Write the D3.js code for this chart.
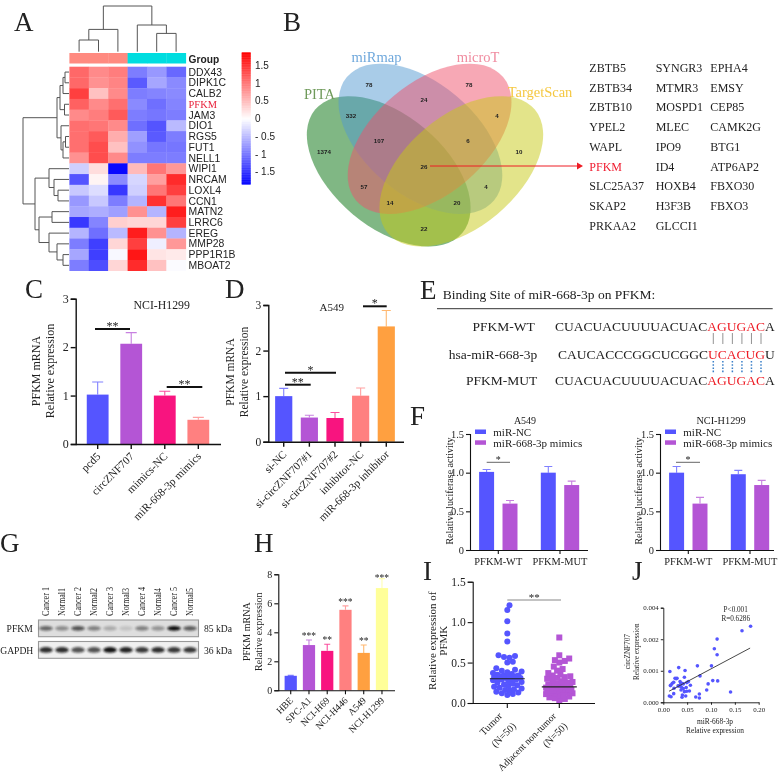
<!DOCTYPE html>
<html>
<head>
<meta charset="utf-8">
<title>PFKM figure</title>
<style>
  body { margin: 0; background: #fff; overflow: hidden; }
  svg { position: absolute; left: 0; top: 0; filter: blur(.35px); }
  text { font-family: "Liberation Serif", serif; fill: #222; }
</style>
<script src="https://d3js.org/d3.v7.min.js"></script>
</head>
<body>
<script>
// ---- data ----
var BLUE = "#5555ff", PURPLE = "#b455d5", PINK = "#f8147f", SALMON = "#ff8080", ORANGE = "#ffa040", YELLOW = "#ffff99";

// A heatmap
var heatGenes = ["DDX43","DIPK1C","CALB2","PFKM","JAM3","DIO1","RGS5","FUT1","NELL1","WIPI1","NRCAM","LOXL4","CCN1","MATN2","LRRC6","EREG","MMP28","PPP1R1B","MBOAT2"];
var heatValues = [
  [1.1,.85,.95,-.95,-.75,-1.1],
  [1.1,.8,.9,-1.2,-.65,-.85],
  [1.4,.45,.85,-.95,-.9,-.85],
  [1.15,.85,1.05,-.85,-1.05,-.9],
  [.85,.95,1.2,-.95,-1.0,-.95],
  [1.05,1.0,.85,-1.05,-1.25,-.5],
  [1.05,1.2,.6,-.7,-1.2,-.95],
  [1.05,1.3,.45,-.8,-1.0,-1.0],
  [.8,1.3,.85,-.95,-.95,-.95],
  [-.35,.25,-1.8,.5,1.0,.75],
  [-1.25,.08,-.85,-.3,.7,1.55],
  [-.4,-.25,-1.45,-.35,1.0,1.4],
  [-.75,-.4,-.95,-.55,1.5,1.0],
  [-.65,-.6,-.7,.8,-.55,1.65],
  [-1.45,-.9,.35,.3,.3,1.4],
  [-.55,-1.05,-.5,1.65,.8,-.55],
  [-.95,-1.4,.3,1.4,-.12,.75],
  [-.65,-1.4,-.05,1.7,.2,.15],
  [-.95,-1.3,.3,1.55,.45,-.03]
];
var heatGroups = ["#ff8a80","#ff8a80","#ff8a80","#00dde0","#00dde0","#00dde0"];
var legendTicks = [1.5,1,.5,0,-.5,-1,-1.5];
var legendLabels = ["1.5","1","0.5","0","- 0.5","- 1","- 1.5"];
// dendrograms: [merge height, left, right], numbers are leaves
var colTree = [45.7,[22.3,[11.7,0,1],2],[26.7,3,[18.3,4,5]]];
var rowTree = [46,
  [12,[9,[6,[4,0,1],2],[4.5,3,4]],[8,5,[6,[3.5,6,7],8]]],
  [34,[20,9,[15,10,[11,11,12]]],[30,[17,13,14],[20,15,[12,16,[6,17,18]]]]]
];

// B venn
var vennNames = ["PITA","miRmap","microT","TargetScan"];
var vennFills = ["#02700a","#5399d1","#ef516b","#c7c915"];
var vennTitleColors = ["#6f9a5a","#6fa8dc","#f08ca0","#f5c842"];
var vennCounts = ["78","78","332","24","4","107","6","1374","10","26","57","4","14","20","22"];
var geneColumns = [
  ["ZBTB5","ZBTB34","ZBTB10","YPEL2","WAPL","PFKM","SLC25A37","SKAP2","PRKAA2"],
  ["SYNGR3","MTMR3","MOSPD1","MLEC","IPO9","ID4","HOXB4","H3F3B","GLCCI1"],
  ["EPHA4","EMSY","CEP85","CAMK2G","BTG1","ATP6AP2","FBXO30","FBXO3"]
];

// C
var cCats = ["pcd5","circZNF707","mimics-NC","miR-668-3p mimics"];
var cVals = [1.02,2.07,1.0,.5];
var cErrs = [1.28,2.30,1.09,.55];
// D
var dCats = ["si-NC","si-circZNF707#1","si-circZNF707#2","inhibitor-NC","miR-668-3p inhibitor"];
var dVals = [1.0,.53,.52,1.01,2.53];
var dErrs = [1.17,.58,.64,1.18,2.88];

// E
var seqNames = ["PFKM-WT","hsa-miR-668-3p","PFKM-MUT"];
var seqParts = [
  ["CUACUACUUUUACUAC","AGUGAC","A"],
  ["CAUCACCCGGCUCGGC","UCACUG","U"],
  ["CUACUACUUUUACUAC","AGUGAC","A"]
];

// F
var fGroups = ["PFKM-WT","PFKM-MUT"];
var fSeries = ["miR-NC","miR-668-3p mimics"];
var fA549Vals = [[1.01,.6],[1.0,.84]];
var fA549Errs = [[1.04,.64],[1.08,.89]];
var fH1299Vals = [[1.0,.6],[.98,.84]];
var fH1299Errs = [[1.08,.68],[1.03,.9]];
var fTicks = [0,.5,1,1.5];
var fTickLabels = ["0","0.5","1.0","1.5"];

// G blot
var blotLanes = ["Cancer 1","Normal1","Cancer 2","Normal2","Cancer 3","Normal3","Cancer 4","Normal4","Cancer 5","Normal5"];
var pfkmBands = [.55,.36,.65,.42,.2,.08,.42,.32,1,.6];
var gapdhBands = [.85,.85,.68,.68,.97,.9,.8,.85,.8,.8];

// H
var hCats = ["HBE","SPC-A1","NCI-H69","NCI-H446","A549","NCI-H1299"];
var hVals = [1.0,3.12,2.72,5.55,2.58,7.05];
var hErrs = [1.03,3.47,3.18,5.82,3.12,7.7];
var hStars = ["","***","**","***","**","***"];

// I
var tumorVals = [1.21,1.15,1.01,.86,.76,.59,.58,.57,.56,.51,.50,.43,.41,.40,.39,.38,.37,.36,.35,.34,.34,.33,.33,.32,.32,.31,.31,.30,.30,.29,.29,.28,.27,.26,.25,.24,.23,.22,.21,.20,.19,.18,.17,.16,.15,.14,.13,.12,.11,.10];
var adjacentVals = [.81,.59,.55,.53,.52,.50,.45,.42,.40,.37,.35,.34,.33,.32,.31,.30,.28,.27,.26,.25,.24,.23,.22,.21,.20,.20,.19,.19,.18,.18,.17,.17,.16,.16,.15,.15,.14,.14,.13,.13,.12,.12,.11,.10,.09,.08,.07,.06,.05,.03];
var iMedians = [.30,.20];

// J (y values in thousandths of the evenly spaced axis)
var jX = [.0138,.0323,.0456,.0715,.101,.107,.1128,.1128,.165,.183,.077,.0442,.1037,.114,.094,.091,.141,.0756,.068,.0756,.0127,.0162,.0218,.0225,.0148,.019,.0218,.0246,.0288,.0351,.0386,.033,.0379,.042,.0491,.0526,.0568,.0372,.0442,.0491,.0547,.04,.047,.0393,.0309,.0162,.027,.042,.036,.048];
var jY = [.975,1.10,1.007,1.156,1.156,1.70,1.51,2.005,2.27,2.41,.837,.796,.688,.678,.583,.392,.328,.264,.169,.137,.2,.178,.275,.446,.53,.605,.637,.764,.764,.657,.605,.52,.477,.583,.625,.657,.54,.392,.338,.35,.36,.232,.2,.159,.52,.55,.75,.44,.56,.47];
var jFitX = [.012,.182];
var jFitY = [.35,1.72];
var jYTicks = [0,1,2,3];
var jYLabels = ["0.000","0.001","0.002","0.004"];
var jXTicks = [0,.05,.1,.15,.2];

// ---- drawing ----
var svg = d3.select("body").append("svg").attr("width", 778).attr("height", 773);

function txt(x, y, s, size, opts) {
  opts = opts || {};
  var t = svg.append("text").attr("x", x).attr("y", y).attr("font-size", size).text(s);
  if (opts.anchor) t.attr("text-anchor", opts.anchor);
  if (opts.fill) t.style("fill", opts.fill);
  if (opts.family) t.style("font-family", opts.family);
  if (opts.weight) t.attr("font-weight", opts.weight);
  if (opts.rotate !== undefined) t.attr("transform", "rotate(" + opts.rotate + " " + x + " " + y + ")");
  return t;
}

var panelLetters = [["A",14,31],["B",283,31],["C",25,298],["D",225,298],["E",420,299],["F",410,425],["G",0,552],["H",254,552],["I",423,580],["J",632,580]];
panelLetters.forEach(function(p) { txt(p[1], p[2], p[0], 27); });

// A
var heatX = d3.scaleBand().domain(d3.range(6)).range([69.4, 185.8]);
var heatY = d3.scaleBand().domain(heatGenes).range([66.7, 270.7]);
var heatColor = d3.scaleLinear().domain([-1.86, 0, 1.86]).range(["#0000ff", "#ffffff", "#ff0000"]);

heatValues.forEach(function(row, r) {
  svg.selectAll(null).data(row).enter().append("rect")
    .attr("x", function(d, i) { return heatX(i); })
    .attr("y", heatY(heatGenes[r]))
    .attr("width", heatX.bandwidth() + .3)
    .attr("height", heatY.bandwidth() + .3)
    .attr("fill", function(d) { return heatColor(d); });
});
svg.selectAll(null).data(heatGroups).enter().append("rect")
  .attr("x", function(d, i) { return heatX(i); })
  .attr("y", 53).attr("width", heatX.bandwidth() + .3).attr("height", 10.5)
  .attr("fill", function(d) { return d; });
txt(188.6, 63, "Group", 10.2, {family: "Liberation Sans", weight: "bold"});
heatGenes.forEach(function(g) {
  var y = heatY(g) + heatY.bandwidth() / 2 + 3.6;
  if (g == "PFKM") txt(188.6, y + .3, g, 10.4, {fill: "#e8203a"});
  else txt(188.6, y, g, 10.4, {family: "Liberation Sans"});
});

// dendrograms
function drawTree(node, pos, height, flip) {
  if (typeof node == "number") return {p: pos(node), h: height(0)};
  var a = drawTree(node[1], pos, height, flip), b = drawTree(node[2], pos, height, flip);
  var h = height(node[0]);
  var d = flip ? "M" + a.h + "," + a.p + "H" + h + "V" + b.p + "H" + b.h
               : "M" + a.p + "," + a.h + "V" + h + "H" + b.p + "V" + b.h;
  svg.append("path").attr("d", d).attr("fill", "none").attr("stroke", "#555").attr("stroke-width", 1);
  return {p: (a.p + b.p) / 2, h: h};
}
drawTree(colTree, function(i) { return heatX(i) + heatX.bandwidth() / 2; },
  d3.scaleLinear().domain([0, 45.7]).range([51.7, 6]), false);
drawTree(rowTree, function(i) { return heatY(heatGenes[i]) + heatY.bandwidth() / 2; },
  d3.scaleLinear().domain([0, 46]).range([69, 23]), true);

// colour legend
var legendY = d3.scaleLinear().domain([1.5, -1.5]).range([65.3, 171.7]);
var legendSteps = d3.range(legendY.invert(52.3), legendY.invert(184), -.02);
svg.selectAll(null).data(legendSteps).enter().append("rect")
  .attr("x", 241.7).attr("width", 9)
  .attr("y", function(d) { return legendY(d); })
  .attr("height", legendY(0) - legendY(.02) + .4)
  .attr("fill", function(d) { return heatColor(d); });
legendTicks.forEach(function(t, i) {
  txt(255, legendY(t) + 3.6, legendLabels[i], 10, {family: "Liberation Sans"});
});

// B
var vennShapes = [[388.7,171.3,40],[420.4,138.8,40],[429.6,138.8,-40],[461.3,171.3,-40]];
vennShapes.forEach(function(s, i) {
  svg.append("ellipse")
    .attr("rx", 96).attr("ry", 56)
    .attr("transform", "translate(" + s[0] + "," + s[1] + ") rotate(" + s[2] + ")")
    .attr("fill", vennFills[i]).attr("fill-opacity", .5);
});
var vennTitleSpots = [[319.5,99],[376.5,62],[478,62],[540,97]];
vennNames.forEach(function(n, i) {
  txt(vennTitleSpots[i][0], vennTitleSpots[i][1], n, 14.5, {anchor: "middle", fill: vennTitleColors[i]});
});
var vennSpots = [[369,85],[469,85],[351,116],[424,100],[497,116],[379,141],[468,141],[324,152],[519,152],[424,167],[364,187],[486,187],[390,203],[457,203],[424,229]];
vennCounts.forEach(function(c, i) {
  txt(vennSpots[i][0], vennSpots[i][1] + 2, c, 6.2, {anchor: "middle", family: "Liberation Sans", weight: "bold"});
});
svg.append("path").attr("d", "M430,166H578").attr("stroke", "#ee1c25").attr("stroke-width", 1);
svg.append("path").attr("d", "M577,162.5L583,166L577,169.5Z").attr("fill", "#ee1c25");

var geneColSpots = [589.3, 655.7, 710.3];
var geneRowY = d3.scaleLinear().domain([0, 8]).range([67.7, 225.7]);
geneColumns.forEach(function(col, c) {
  col.forEach(function(g, r) {
    txt(geneColSpots[c], geneRowY(r) + 4.2, g, 12, g == "PFKM" ? {fill: "#f01c30"} : {});
  });
});

// axes helper
function styleAxis(g, size, width) {
  g.selectAll("path,line").attr("stroke", "#111").attr("stroke-width", width);
  g.selectAll("text").attr("font-size", size).attr("font-family", "Liberation Serif").style("fill", "#222");
}

function yAxis(x, scale, ticks, labels, size, width, tick) {
  var g = svg.append("g").attr("transform", "translate(" + x + ",0)")
    .call(d3.axisLeft(scale).tickValues(ticks).tickSizeOuter(0).tickSize(tick).tickPadding(2)
      .tickFormat(function(d, i) { return labels[i]; }));
  styleAxis(g, size, width);
}

function xAxisLine(y, scale, x0, x1, width, tick) {
  var g = svg.append("g").attr("transform", "translate(0," + y + ")")
    .call(d3.axisBottom(scale).tickSizeOuter(0).tickSize(tick).tickFormat(""));
  styleAxis(g, 10, width);
  g.select("path").attr("d", "M" + x0 + ",.5H" + x1);
}

function rotatedLabels(scale, cats, y, dx, size) {
  cats.forEach(function(c) {
    var x = scale(c) + scale.bandwidth() / 2 + dx;
    txt(x, y, c, size, {anchor: "end", rotate: -45});
  });
}

function bars(scale, yScale, cats, vals, errs, colors, capw) {
  var bw = scale.bandwidth();
  cats.forEach(function(c, i) {
    var col = colors[i];
    var cx = scale(c) + bw / 2;
    svg.append("path")
      .attr("d", "M" + cx + "," + yScale(vals[i]) + "V" + yScale(errs[i]) + "M" + (cx - capw) + "," + yScale(errs[i]) + "H" + (cx + capw))
      .attr("stroke", col).attr("stroke-opacity", .75).attr("fill", "none").attr("stroke-width", 1.1);
    svg.append("rect").attr("x", scale(c)).attr("width", bw)
      .attr("y", yScale(vals[i])).attr("height", yScale(0) - yScale(vals[i]))
      .attr("fill", col);
  });
}

function sigLine(x0, x1, y, width, color, stars, size) {
  svg.append("path").attr("d", "M" + x0 + "," + y + "H" + x1).attr("stroke", color).attr("stroke-width", width);
  txt((x0 + x1) / 2, y + 1, stars, size, {anchor: "middle"});
}

function twoLineLabel(x1, x2, cy, a, b, size) {
  txt(x1, cy, a, size, {anchor: "middle", rotate: -90});
  txt(x2, cy, b, size, {anchor: "middle", rotate: -90});
}

// C
var cX = d3.scaleBand().domain(cCats).range([80.9, 215.1]).paddingInner(.35).paddingOuter(.175);
var cY = d3.scaleLinear().domain([0, 3]).range([444, 298.7]);
bars(cX, cY, cCats, cVals, cErrs, [BLUE, PURPLE, PINK, SALMON], 5.5);
xAxisLine(444, cX, 75.7, 221, 1.4, 5);
yAxis(75.7, cY, [0,1,2,3], ["0","1","2","3"], 12, 1.4, 5);
rotatedLabels(cX, cCats, 457, 3.5, 11.2);
sigLine(95, 130, 329, 2, "#111", "**", 12);
sigLine(166.7, 202.3, 387, 2, "#111", "**", 12);
txt(161.7, 309, "NCI-H1299", 11.8, {anchor: "middle"});
twoLineLabel(39.5, 53.5, 371, "PFKM mRNA", "Relative expression", 12);

// D
var dX = d3.scaleBand().domain(dCats).range([270.9, 399.1]).paddingInner(.33).paddingOuter(.165);
var dY = d3.scaleLinear().domain([0, 3]).range([441.7, 305]);
bars(dX, dY, dCats, dVals, dErrs, [BLUE, PURPLE, PINK, SALMON, ORANGE], 4.5);
xAxisLine(441.7, dX, 268.3, 404, 1.4, 5);
yAxis(268.3, dY, [0,1,2,3], ["0","1","2","3"], 11.5, 1.4, 5);
rotatedLabels(dX, dCats, 455, 3.5, 11);
sigLine(363, 386.7, 306.3, 2, "#111", "*", 12);
sigLine(285, 336, 372.7, 2, "#111", "*", 12);
sigLine(285, 310.7, 384.7, 2, "#111", "**", 12);
txt(331.7, 311, "A549", 11, {anchor: "middle"});
twoLineLabel(234, 248, 372, "PFKM mRNA", "Relative expression", 11.5);

// E
txt(442.7, 299, "Binding Site of miR-668-3p on PFKM:", 13.5);
svg.append("path").attr("d", "M437,308.7H772.7").attr("stroke", "#333").attr("stroke-width", 1);
var seqRowY = [331, 358.5, 385];
var seqStartX = [555, 558, 555];
seqNames.forEach(function(n, i) {
  txt(i == 0 ? 534.7 : 537.3, seqRowY[i], n, 13.5, {anchor: "end"});
  var t = txt(seqStartX[i], seqRowY[i], "", 13.5);
  seqParts[i].forEach(function(part, k) {
    t.append("tspan").text(part).style("fill", k == 1 ? "#ee1c25" : "#222");
  });
});
var pairX = d3.scalePoint().domain(d3.range(6)).range([713.3, 761]);
d3.range(6).forEach(function(i) {
  svg.append("path").attr("d", "M" + pairX(i) + ",333V344").attr("stroke", "#777").attr("stroke-width", .8);
  svg.append("path").attr("d", "M" + pairX(i) + ",361V373").attr("stroke", "#3a7fc8").attr("stroke-width", 1.5).attr("stroke-dasharray", "1.6,1.6");
});

// F
function lucPanel(axisX, end, c0, c1, vals, errs, title, titleX, labelX, starLine, titleSize) {
  var step = c1 - c0;
  var gx = d3.scaleBand().domain(fGroups).range([c0 - step / 2, c1 + step / 2]);
  var y = d3.scaleLinear().domain([0, 1.5]).range([550, 434]);
  fGroups.forEach(function(g, gi) {
    var cx = gx(g) + gx.bandwidth() / 2;
    var sub = d3.scaleBand().domain(fSeries).range([cx - 23.4, cx + 23.4]).paddingInner(.36).paddingOuter(.18);
    bars(sub, y, fSeries, vals[gi], errs[gi], [BLUE, PURPLE], 4);
    txt(cx, 565, g, 10.4, {anchor: "middle"});
  });
  xAxisLine(550, gx, axisX, end, 1.1, 4);
  yAxis(axisX, y, fTicks, fTickLabels, 10.4, 1.1, 4);
  fSeries.forEach(function(s, i) {
    svg.append("rect").attr("x", axisX + 5).attr("y", 429.5 + i * 10.8).attr("width", 11).attr("height", 4.5)
      .attr("fill", i == 0 ? BLUE : PURPLE);
    txt(axisX + 23.3, 436 + i * 10.7, s, 11);
  });
  txt(titleX, 423.5, title, titleSize, {anchor: "middle"});
  txt(labelX, 491, "Relative luciferase activity", 10, {anchor: "middle", rotate: -90});
  sigLine(starLine[0], starLine[1], 462.3, .9, "#555", "*", 10);
}
lucPanel(470, 588, 498.3, 560, fA549Vals, fA549Errs, "A549", 525, 452.5, [486.7, 510], 10);
lucPanel(660, 774, 688.3, 750, fH1299Vals, fH1299Errs, "NCI-H1299", 721, 642, [676, 700], 10.3);

// G
var defs = svg.append("defs");
defs.append("filter").attr("id", "soft").attr("x", "-30%").attr("y", "-60%").attr("width", "160%").attr("height", "220%")
  .append("feGaussianBlur").attr("stdDeviation", "1.1 .8");
var laneX = d3.scalePoint().domain(blotLanes).range([46, 190]);
function blot(y0, y1, bands, bg, ry) {
  var cy = (y0 + y1) / 2;
  svg.append("rect").attr("x", 38.5).attr("y", y0).attr("width", 160).attr("height", y1 - y0)
    .attr("fill", bg).attr("stroke", "#999").attr("stroke-width", 1.1);
  var shade = d3.scaleLinear().domain([0, 1]).range([.05, 1]);
  svg.selectAll(null).data(bands).enter().append("ellipse")
    .attr("cx", function(d, i) { return laneX(blotLanes[i]); })
    .attr("cy", cy)
    .attr("rx", 6.8).attr("ry", ry)
    .attr("fill", "#111")
    .attr("opacity", function(d) { return shade(d); })
    .attr("filter", "url(#soft)");
}
blot(620, 636.7, pfkmBands, "#dedede", 2.3);
blot(641.5, 658.3, gapdhBands, "#f0f0f0", 2.8);
blotLanes.forEach(function(l) {
  txt(laneX(l) + 3.2, 616, l, 10, {rotate: -90}).attr("textLength", l.length > 7 ? 29 : 28).attr("lengthAdjust", "spacingAndGlyphs");
});
txt(32.7, 631.5, "PFKM", 9.6, {anchor: "end"});
txt(33.3, 653.5, "GAPDH", 9.6, {anchor: "end"});
txt(204, 631.5, "85 kDa", 9.6);
txt(204, 653.5, "36 kDa", 9.6);

// H
var hX = d3.scaleBand().domain(hCats).range([281.6, 391.1]).paddingInner(.33).paddingOuter(.165);
var hY = d3.scaleLinear().domain([0, 8]).range([690.3, 574.3]);
bars(hX, hY, hCats, hVals, hErrs, [BLUE, PURPLE, PINK, SALMON, ORANGE, YELLOW], 3);
xAxisLine(690.3, hX, 278.3, 395, 1.1, 4);
yAxis(278.3, hY, [0,2,4,6,8], ["0","2","4","6","8"], 10, 1.1, 4);
rotatedLabels(hX, hCats, 701, 3, 9.6);
hCats.forEach(function(c, i) {
  txt(hX(c) + hX.bandwidth() / 2, hY(hErrs[i]) - 1 + (i == 5 ? 3 : 0), hStars[i], 9.5, {anchor: "middle"});
});
twoLineLabel(250.5, 262.5, 631.7, "PFKM mRNA", "Relative expression", 10);

// I
var iGroups = ["Tumor", "Adjacent"];
var iX = d3.scaleBand().domain(iGroups).range([481.3, 585.3]);
var iY = d3.scaleLinear().domain([0, 1.5]).range([703, 581.7]);

// offset each point sideways as little as possible, staying inside the column width
function swarm(vals, gap, maxOff) {
  var placed = [];
  var offs = d3.range(0, maxOff + .1, 1.1);
  var tries = [0];
  offs.slice(1).forEach(function(o) { tries.push(o, -o); });
  return vals.slice().sort(d3.ascending).map(function(v) {
    var y = iY(v), best = 0, bestDist = -1;
    for (var k = 0; k < tries.length; k++) {
      var dist = d3.min(placed, function(p) { return Math.hypot(p[0] - tries[k], p[1] - y); });
      if (dist === undefined) dist = gap;
      if (dist >= gap) { best = tries[k]; break; }
      if (dist > bestDist) { bestDist = dist; best = tries[k]; }
    }
    placed.push([best, y]);
    return [best, y];
  });
}
var tumorCx = iX("Tumor") + iX.bandwidth() / 2;
var adjCx = iX("Adjacent") + iX.bandwidth() / 2;
svg.selectAll(null).data(swarm(tumorVals, 5.2, 15)).enter().append("circle")
  .attr("cx", function(d) { return tumorCx + d[0]; })
  .attr("cy", function(d) { return d[1]; })
  .attr("r", 3).attr("fill", BLUE);
svg.selectAll(null).data(swarm(adjacentVals, 4.8, 14)).enter().append("rect")
  .attr("x", function(d) { return adjCx + d[0] - 3; })
  .attr("y", function(d) { return d[1] - 3; })
  .attr("width", 6).attr("height", 6).attr("fill", PURPLE);
iGroups.forEach(function(g, i) {
  var cx = iX(g) + iX.bandwidth() / 2;
  svg.append("path").attr("d", "M" + (cx - 17.5) + "," + iY(iMedians[i]) + "H" + (cx + 17.5))
    .attr("stroke", "#222").attr("stroke-width", 1.2);
});
xAxisLine(703, iX, 472.7, 595, 1.1, 5);
yAxis(472.7, iY, fTicks, ["0.0","0.5","1.0","1.5"], 11.5, 1.1, 5);
sigLine(507.3, 561, 600, 1.2, "#888", "**", 11);
twoLineLabel(436, 447.5, 640.7, "Relative expression of", "PFMK", 11);
txt(503, 716.7, "Tumor", 10.2, {anchor: "end", rotate: -45});
txt(516.7, 726.7, "(N=50)", 10.2, {anchor: "end", rotate: -45});
txt(556.7, 716.7, "Adjacent non-tumor", 9.6, {anchor: "end", rotate: -45});
txt(568, 726.7, "(N=50)", 10.2, {anchor: "end", rotate: -45});

// J
var jXs = d3.scaleLinear().domain([0, .2]).range([663.3, 758.7]);
var jYs = d3.scaleLinear().domain([0, 3]).range([702.3, 607.7]);
svg.selectAll(null).data(jX).enter().append("circle")
  .attr("cx", function(d) { return jXs(d); })
  .attr("cy", function(d, i) { return jYs(jY[i]); })
  .attr("r", 1.8).attr("fill", BLUE);
svg.append("path")
  .attr("d", d3.line().x(function(d) { return jXs(d); }).y(function(d, i) { return jYs(jFitY[i]); })(jFitX))
  .attr("stroke", "#333").attr("stroke-width", .9).attr("fill", "none");
var jgx = svg.append("g").attr("transform", "translate(0,702.3)")
  .call(d3.axisBottom(jXs).tickValues(jXTicks).tickSize(2.5).tickSizeOuter(0).tickPadding(2).tickFormat(d3.format(".2f")));
styleAxis(jgx, 6.9, .9);
yAxis(663.3, jYs, jYTicks, jYLabels, 6.9, .9, 2.5);
txt(735.7, 612, "P<0.001", 7.2, {anchor: "middle"});
txt(735.7, 621, "R=0.6286", 7.2, {anchor: "middle"});
txt(715, 723.5, "miR-668-3p", 7.4, {anchor: "middle"});
txt(715, 732.5, "Relative expression", 7.4, {anchor: "middle"});
twoLineLabel(630.5, 639, 651.7, "circZNF707", "Relative expression", 7.2);
</script>
</body>
</html>
